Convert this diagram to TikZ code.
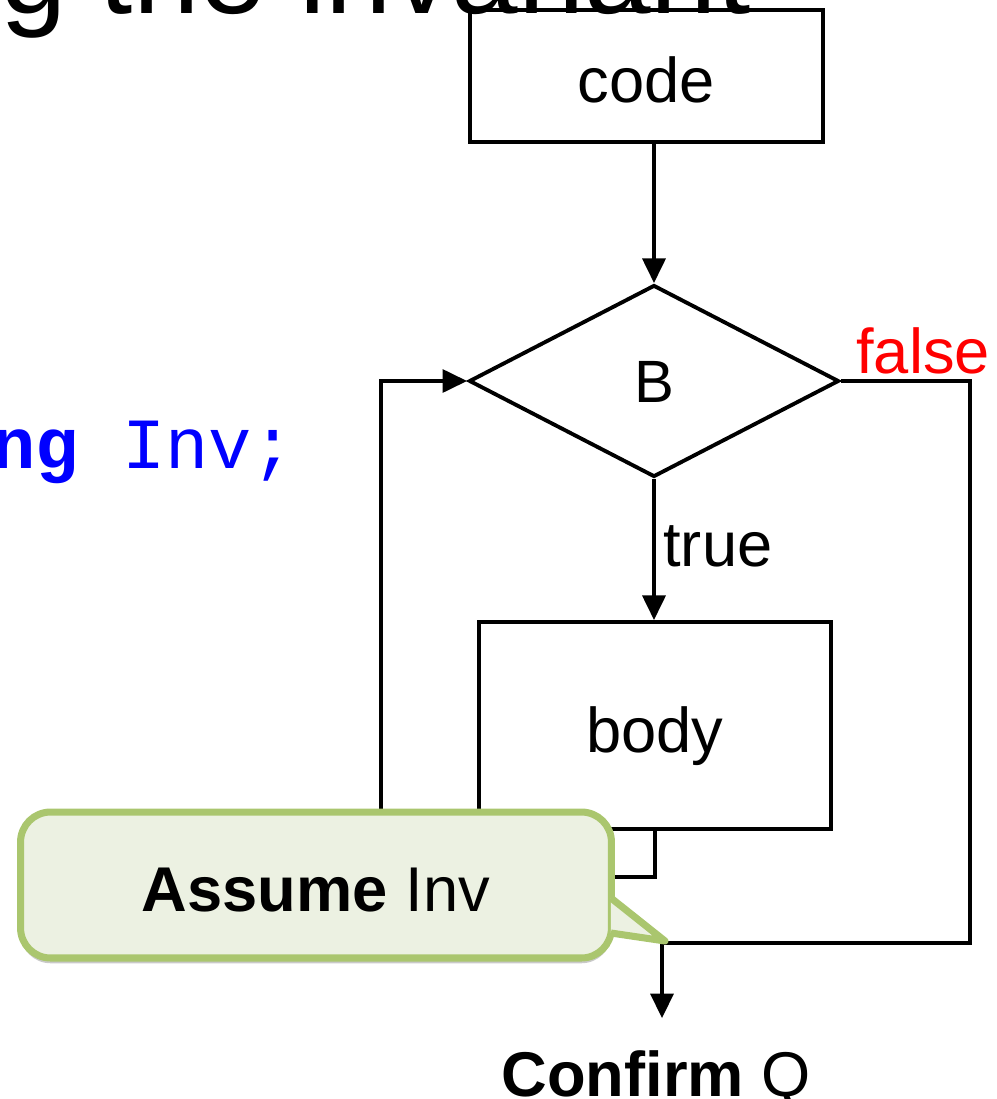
\documentclass[tikz,border=0pt]{standalone}
\usepackage{fontspec}
\setmainfont{Liberation Sans}
\setmonofont{Liberation Mono}
\usetikzlibrary{shapes.geometric,arrows.meta,positioning,calc,shadows}
\definecolor{codeblue}{RGB}{0,0,255}
\definecolor{falsered}{RGB}{255,0,0}
\definecolor{notefill}{RGB}{236,241,226}
\definecolor{noteline}{RGB}{170,198,110}
\tikzset{
    block/.style={rectangle, draw, line width=2.2pt, inner sep=0pt, font=\fontsize{36}{40}\selectfont, text height=30.6pt, text depth=0pt},
    test/.style={diamond, draw, line width=2.2pt, aspect=1.9, minimum width=7.4cm, minimum height=3.84cm, inner sep=0pt, font=\fontsize{34}{38}\selectfont, text height=25pt, text depth=0pt},
    flow/.style={draw, line width=2.2pt, -{Triangle[length=14pt, width=13pt]}},
    wire/.style={draw, line width=2.2pt},
    tag/.style={inner sep=0pt, font=\fontsize{36}{40}\selectfont},
    note/.style={rectangle, draw=noteline, fill=notefill, line width=4pt, rounded corners=0.6cm, minimum width=11.82cm, minimum height=2.92cm, font=\fontsize{36}{40}\selectfont, text height=30.6pt, text depth=0pt, drop shadow={shadow xshift=0pt, shadow yshift=-3pt, opacity=0.3, fill=black!70}},
    notetip/.style={fill=notefill, draw=noteline, line width=4pt, line join=round}
}
\begin{document}
\begin{tikzpicture}[x=0.02cm, y=-0.02cm]
    \useasboundingbox (0,0) rectangle (997,1099);
    \clip (0,0) rectangle (997,1099);

    % Heading and code line behind the chart
    \node [anchor=base west, inner sep=0pt, font=\fontsize{68}{72}\selectfont] (heading) at (0,13) {g the invariant};
    \node [anchor=base west, inner sep=0pt, text=codeblue, font=\ttfamily\fontsize{41}{46}\selectfont] (invdecl) at (-8,468) {\textbf{ng} Inv;};

    % Loop blocks
    \node [block, minimum width=7.06cm, minimum height=2.64cm] (code) at (646.5,76) {code};
    \node [test] (cond) at ([shift={(7.5,305)}]code) {B};
    \node [block, minimum width=7.04cm, minimum height=4.14cm] (body) at ([shift={(1,344.5)}]cond) {body};
    \node [tag, anchor=base] (confirm) at (656,1096) {\textbf{Confirm} Q};

    % Turning points of the loop
    \coordinate (back) at (381,877);
    \coordinate (rturn) at (970,943);
    \coordinate (exit) at (662,943);
    \coordinate (tip) at (665,941);

    % Flow
    \path [flow] (code.south -| cond.north) -- (cond.north);
    \path [flow] (cond.south) -- (cond.south |- body.north);
    \node [tag, anchor=base west] (truelbl) at ([shift={(9,88)}]cond.south) {true};
    \path [flow] (body.south) |- (back) |- (cond.west);
    \path [wire] (cond.east) -| (rturn) -- (exit);
    \node [tag, anchor=base west, text=falsered] (falselbl) at ([shift={(15,-8)}]cond.east) {false};
    \path [flow, shorten >=18pt] (exit) -- (exit |- confirm.north);

    % Callout over the back edge
    \node [note] (assume) at (316,885) {\textbf{Assume} Inv};
    \path [notetip] ([shift={(-4,13)}]assume.east) -- (tip) -- ([shift={(-4,48)}]assume.east);
\end{tikzpicture}
\end{document}
